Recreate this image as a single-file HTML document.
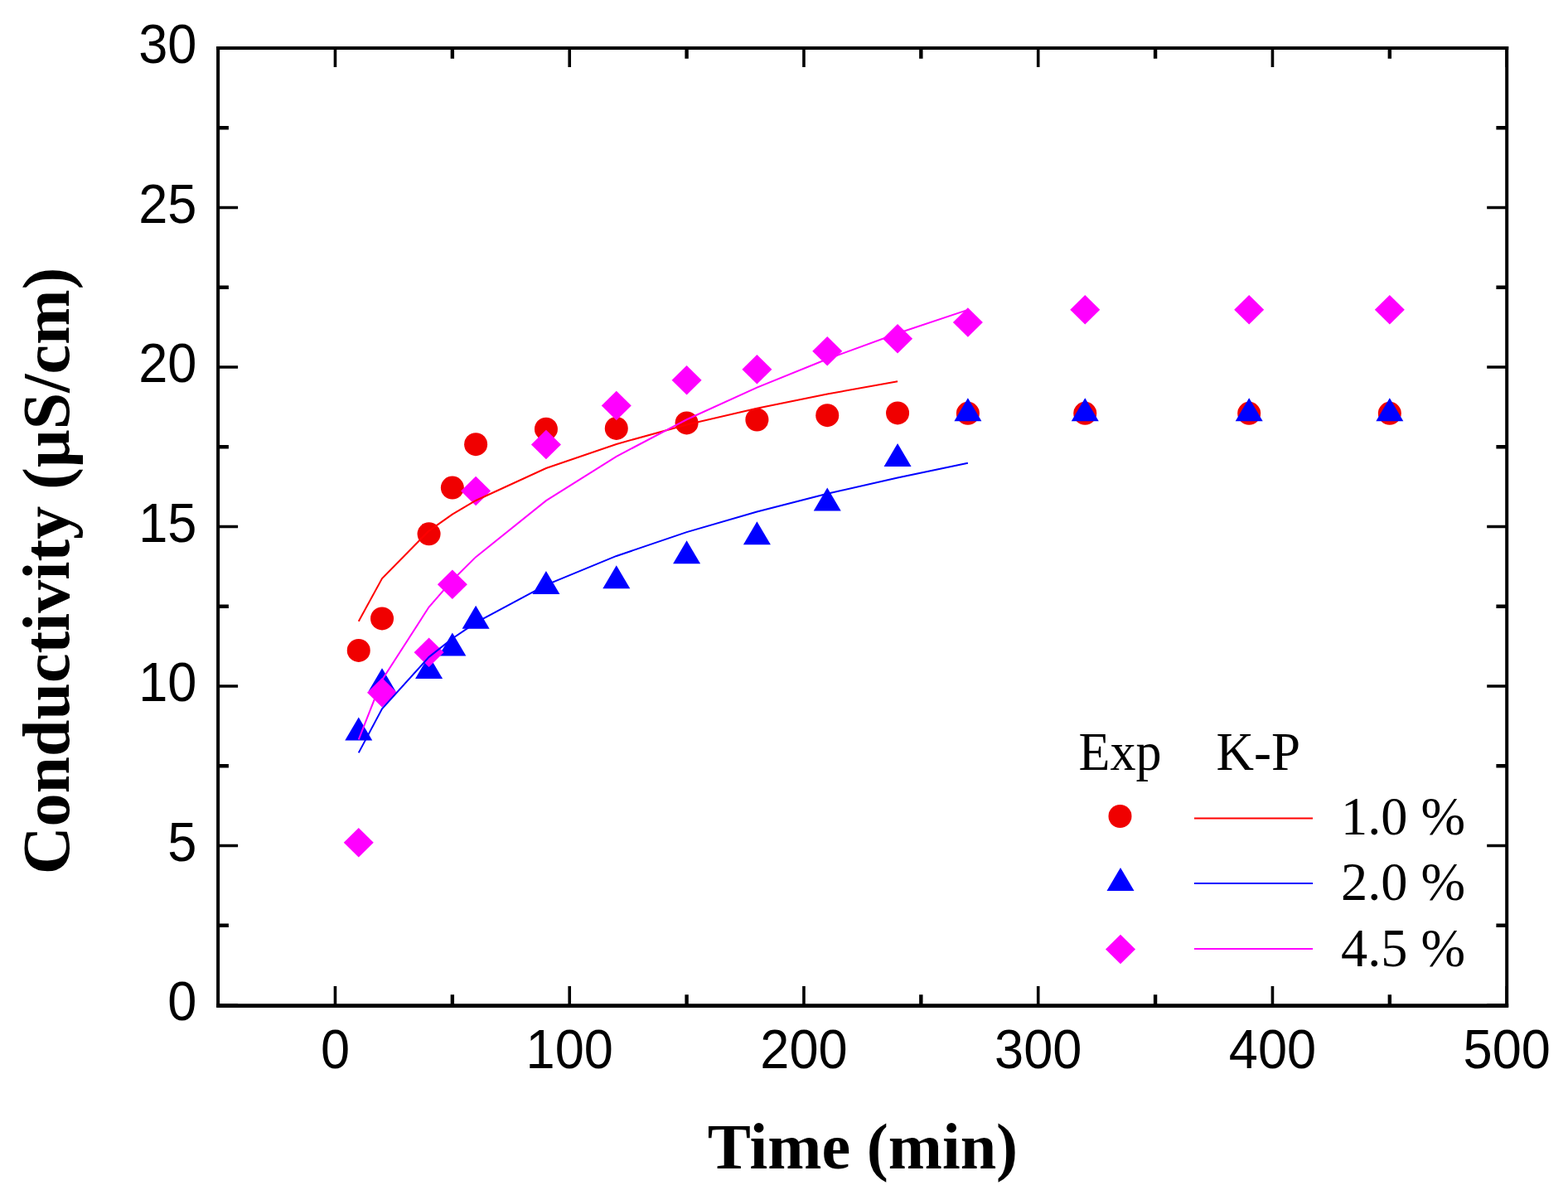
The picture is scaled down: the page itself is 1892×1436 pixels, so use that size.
<!DOCTYPE html>
<html><head><meta charset="utf-8"><title>Conductivity vs Time</title>
<style>html,body{margin:0;padding:0;background:#fff;}body{width:1892px;height:1436px;overflow:hidden;}svg{display:block;}.tl{font-family:"Liberation Sans",Arial,sans-serif;font-size:66.5px;fill:#000;}.lg{font-family:"Liberation Serif","Times New Roman",serif;font-size:66px;fill:#000;}.ti{font-family:"Liberation Serif","Times New Roman",serif;font-weight:bold;fill:#000;}</style></head><body>
<svg width="1892" height="1436" viewBox="0 0 1892 1436">
<rect x="0" y="0" width="1892" height="1436" fill="#ffffff"/>
<path d="M404.47 1213V1190M404.47 58V81M687.22 1213V1190M687.22 58V81M969.96 1213V1190M969.96 58V81M1252.71 1213V1190M1252.71 58V81M1535.45 1213V1190M1535.45 58V81M1818.2 1213V1190M1818.2 58V81M263.1 1213H287.1M1818.2 1213H1794.2M263.1 1020.5H287.1M1818.2 1020.5H1794.2M263.1 828H287.1M1818.2 828H1794.2M263.1 635.5H287.1M1818.2 635.5H1794.2M263.1 443H287.1M1818.2 443H1794.2M263.1 250.5H287.1M1818.2 250.5H1794.2M263.1 58H287.1M1818.2 58H1794.2" stroke="#000" stroke-width="3.6" fill="none"/>
<path d="M545.85 1213V1200.2M545.85 58V70.8M828.59 1213V1200.2M828.59 58V70.8M1111.34 1213V1200.2M1111.34 58V70.8M1394.08 1213V1200.2M1394.08 58V70.8M1676.83 1213V1200.2M1676.83 58V70.8M263.1 1116.75H275.9M1818.2 1116.75H1805.4M263.1 924.25H275.9M1818.2 924.25H1805.4M263.1 731.75H275.9M1818.2 731.75H1805.4M263.1 539.25H275.9M1818.2 539.25H1805.4M263.1 346.75H275.9M1818.2 346.75H1805.4M263.1 154.25H275.9M1818.2 154.25H1805.4" stroke="#000" stroke-width="4.4" fill="none"/>
<circle cx="432.75" cy="784.88" r="14" fill="#f00000"/>
<circle cx="461.02" cy="746.38" r="14" fill="#f00000"/>
<circle cx="517.57" cy="644.36" r="14" fill="#f00000"/>
<circle cx="545.85" cy="588.53" r="14" fill="#f00000"/>
<circle cx="574.12" cy="536.17" r="14" fill="#f00000"/>
<circle cx="658.94" cy="517.69" r="14" fill="#f00000"/>
<circle cx="743.77" cy="516.92" r="14" fill="#f00000"/>
<circle cx="828.59" cy="510.38" r="14" fill="#f00000"/>
<circle cx="913.41" cy="506.52" r="14" fill="#f00000"/>
<circle cx="998.24" cy="501.14" r="14" fill="#f00000"/>
<circle cx="1083.06" cy="498.44" r="14" fill="#f00000"/>
<circle cx="1167.89" cy="498.83" r="14" fill="#f00000"/>
<circle cx="1309.26" cy="498.83" r="14" fill="#f00000"/>
<circle cx="1507.18" cy="498.83" r="14" fill="#f00000"/>
<circle cx="1676.83" cy="498.83" r="14" fill="#f00000"/>
<path d="M432.75 865.59L449.25 893.59L416.25 893.59Z" fill="#0000ff"/>
<path d="M461.02 806.3L477.52 834.3L444.52 834.3Z" fill="#0000ff"/>
<path d="M517.57 790.9L534.07 818.9L501.07 818.9Z" fill="#0000ff"/>
<path d="M545.85 763.56L562.35 791.56L529.35 791.56Z" fill="#0000ff"/>
<path d="M574.12 730.84L590.62 758.84L557.62 758.84Z" fill="#0000ff"/>
<path d="M658.94 688.88L675.44 716.88L642.44 716.88Z" fill="#0000ff"/>
<path d="M743.77 682.33L760.27 710.33L727.27 710.33Z" fill="#0000ff"/>
<path d="M828.59 652.3L845.09 680.3L812.09 680.3Z" fill="#0000ff"/>
<path d="M913.41 629.2L929.91 657.2L896.91 657.2Z" fill="#0000ff"/>
<path d="M998.24 588.39L1014.74 616.39L981.74 616.39Z" fill="#0000ff"/>
<path d="M1083.06 534.88L1099.56 562.88L1066.56 562.88Z" fill="#0000ff"/>
<path d="M1167.89 480.2L1184.39 508.2L1151.39 508.2Z" fill="#0000ff"/>
<path d="M1309.26 480.2L1325.76 508.2L1292.76 508.2Z" fill="#0000ff"/>
<path d="M1507.18 480.2L1523.68 508.2L1490.68 508.2Z" fill="#0000ff"/>
<path d="M1676.83 480.2L1693.33 508.2L1660.33 508.2Z" fill="#0000ff"/>
<path d="M432.75 998.9L450.75 1016.65L432.75 1034.4L414.75 1016.65Z" fill="#ff00ff"/>
<path d="M461.02 817.95L479.02 835.7L461.02 853.45L443.02 835.7Z" fill="#ff00ff"/>
<path d="M517.57 769.44L535.57 787.19L517.57 804.94L499.57 787.19Z" fill="#ff00ff"/>
<path d="M545.85 687.44L563.85 705.19L545.85 722.94L527.85 705.19Z" fill="#ff00ff"/>
<path d="M574.12 574.63L592.12 592.38L574.12 610.13L556.12 592.38Z" fill="#ff00ff"/>
<path d="M658.94 518.81L676.94 536.56L658.94 554.31L640.94 536.56Z" fill="#ff00ff"/>
<path d="M743.77 471.83L761.77 489.58L743.77 507.33L725.77 489.58Z" fill="#ff00ff"/>
<path d="M828.59 441.03L846.59 458.78L828.59 476.53L810.59 458.78Z" fill="#ff00ff"/>
<path d="M913.41 427.94L931.41 445.69L913.41 463.44L895.41 445.69Z" fill="#ff00ff"/>
<path d="M998.24 406L1016.24 423.75L998.24 441.5L980.24 423.75Z" fill="#ff00ff"/>
<path d="M1083.06 390.99L1101.06 408.74L1083.06 426.49L1065.06 408.74Z" fill="#ff00ff"/>
<path d="M1167.89 371.35L1185.89 389.1L1167.89 406.85L1149.89 389.1Z" fill="#ff00ff"/>
<path d="M1309.26 355.95L1327.26 373.7L1309.26 391.45L1291.26 373.7Z" fill="#ff00ff"/>
<path d="M1507.18 355.95L1525.18 373.7L1507.18 391.45L1489.18 373.7Z" fill="#ff00ff"/>
<path d="M1676.83 355.95L1694.83 373.7L1676.83 391.45L1658.83 373.7Z" fill="#ff00ff"/>
<polyline points="432.75,749.84 461.02,698.09 517.57,640.56 545.85,620.71 574.12,603.97 658.94,565.05 743.77,535.93 828.59,512.45 913.41,492.66 998.24,475.49 1083.06,460.29" fill="none" stroke="#ff0000" stroke-width="2"/>
<polyline points="432.75,908.36 461.02,855.24 517.57,792.85 545.85,770.54 574.12,751.43 658.94,705.92 743.77,670.94 828.59,642.15 913.41,617.5 998.24,595.83 1083.06,576.42 1167.89,558.79" fill="none" stroke="#0000ff" stroke-width="2"/>
<polyline points="432.75,892.48 461.02,820.58 517.57,732.55 545.85,700.2 574.12,672.16 658.94,604.18 743.77,550.83 828.59,506.25 913.41,467.6 998.24,433.28 1083.06,402.28 1167.89,373.91" fill="none" stroke="#ff00ff" stroke-width="2"/>
<path d="M263.1 56V1215" stroke="#000" stroke-width="4" fill="none"/>
<path d="M1818.2 56V1215" stroke="#000" stroke-width="4" fill="none"/>
<path d="M261.1 58H1820.2" stroke="#000" stroke-width="4" fill="none"/>
<path d="M261.1 1213.6H1820.2" stroke="#000" stroke-width="4.6" fill="none"/>
<text class="tl" transform="translate(404.47 1289) scale(0.95 1)" text-anchor="middle">0</text>
<text class="tl" transform="translate(687.22 1289) scale(0.95 1)" text-anchor="middle">100</text>
<text class="tl" transform="translate(969.96 1289) scale(0.95 1)" text-anchor="middle">200</text>
<text class="tl" transform="translate(1252.71 1289) scale(0.95 1)" text-anchor="middle">300</text>
<text class="tl" transform="translate(1535.45 1289) scale(0.95 1)" text-anchor="middle">400</text>
<text class="tl" transform="translate(1818.2 1289) scale(0.95 1)" text-anchor="middle">500</text>
<text class="tl" transform="translate(237.5 1231.2) scale(0.95 1)" text-anchor="end">0</text>
<text class="tl" transform="translate(237.5 1038.7) scale(0.95 1)" text-anchor="end">5</text>
<text class="tl" transform="translate(237.5 846.2) scale(0.95 1)" text-anchor="end">10</text>
<text class="tl" transform="translate(237.5 653.7) scale(0.95 1)" text-anchor="end">15</text>
<text class="tl" transform="translate(237.5 461.2) scale(0.95 1)" text-anchor="end">20</text>
<text class="tl" transform="translate(237.5 268.7) scale(0.95 1)" text-anchor="end">25</text>
<text class="tl" transform="translate(237.5 76.2) scale(0.95 1)" text-anchor="end">30</text>
<text class="ti" transform="translate(1041 1410) scale(0.99 1)" font-size="79" text-anchor="middle">Time (min)</text>
<text class="ti" font-size="80" text-anchor="middle" transform="translate(83 689) rotate(-90)">Conductivity (µS/cm)</text>
<text class="lg" transform="translate(1301.5 928.5) scale(0.94 1)">Exp</text>
<text class="lg" transform="translate(1467.5 928.5) scale(0.955 1)">K-P</text>
<circle cx="1351.5" cy="985" r="14" fill="#f00000"/>
<path d="M1352 1047L1368.5 1075L1335.5 1075Z" fill="#0000ff"/>
<path d="M1352 1127.75L1370 1145.5L1352 1163.25L1334 1145.5Z" fill="#ff00ff"/>
<path d="M1441 987.5H1584" stroke="#ff0000" stroke-width="2"/>
<path d="M1441 1066H1584" stroke="#0000ff" stroke-width="2"/>
<path d="M1441 1145H1584" stroke="#ff00ff" stroke-width="2"/>
<text class="lg" transform="translate(1618 1007) scale(0.975 1)">1.0 %</text>
<text class="lg" transform="translate(1618 1086) scale(0.975 1)">2.0 %</text>
<text class="lg" transform="translate(1618 1165.5) scale(0.975 1)">4.5 %</text>
</svg></body></html>
